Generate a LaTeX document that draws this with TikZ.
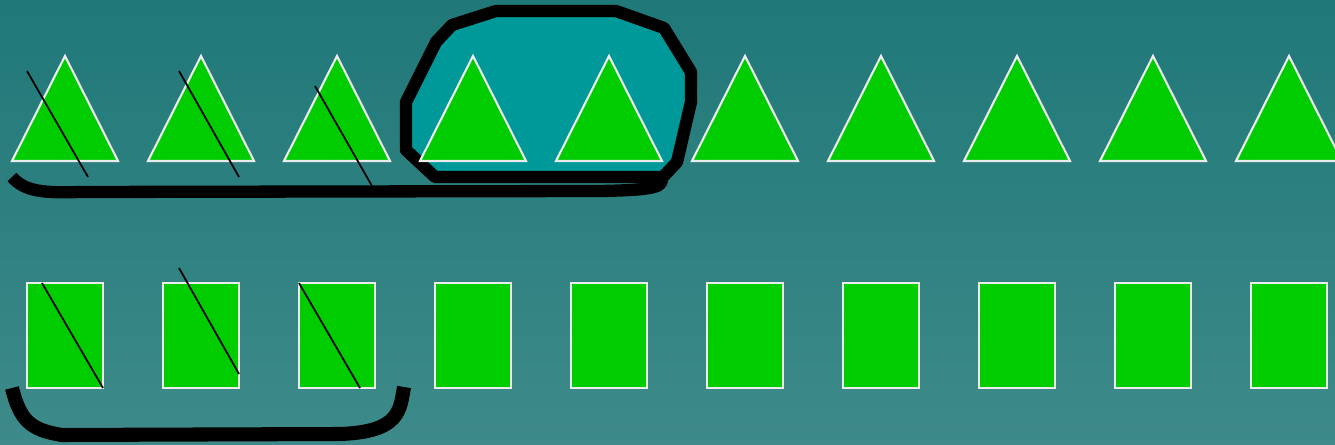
\documentclass[tikz,border=0pt]{standalone}
\definecolor{bgtop}{RGB}{32,120,120}
\definecolor{bgbot}{RGB}{62,138,138}
\definecolor{leaf}{RGB}{0,204,0}
\definecolor{pool}{RGB}{0,153,153}
\tikzset{
  piece/.style={fill=leaf, draw=white!92!black, line width=1.2pt},
  strike/.style={draw=black, line width=1pt},
  marker/.style={draw=black, line width=7pt, line join=round}
}
\begin{document}
\begin{tikzpicture}[x=0.02cm, y=-0.02cm]
      \useasboundingbox (0,0) rectangle (1335,445);
      \shade[top color=bgtop, bottom color=bgbot] (0,0) rectangle (1335,445);
      % selection blob
      \filldraw[pool, marker] (496,11) -- (616,11) -- (664,28) -- (691,72) -- (691,102)
        -- (677,162) -- (663,177) -- (435,177) -- (406,150) -- (406,102) -- (436,42)
        -- (452,25) -- cycle;
      % triangles and boxes
      \foreach \i in {0,...,9} {
        \draw[piece] ({12+136*\i},161) -- ({65+136*\i},56) -- ({118+136*\i},161) -- cycle;
        \draw[piece] ({27+136*\i},283) rectangle ({103+136*\i},388);
      }
      % crossed out
      \draw[strike] (27,71) -- (88,177);
      \draw[strike] (179,71) -- (239,177);
      \draw[strike] (315,86) -- (372,186);
      \draw[strike] (42,283) -- (103,388);
      \draw[strike] (179,268) -- (239,374);
      \draw[strike] (299,283) -- (360,388);
      % braces
      \draw[marker] (12,177) .. controls (25,192) and (45,193) .. (80,192)
        -- (600,191) .. controls (660,190) and (662,186) .. (662,178);
      \draw[marker, line width=8pt] (12,388) .. controls (20,420) and (30,430) .. (62,435)
        -- (340,434) .. controls (400,432) and (400,410) .. (404,387);
\end{tikzpicture}
\end{document}
